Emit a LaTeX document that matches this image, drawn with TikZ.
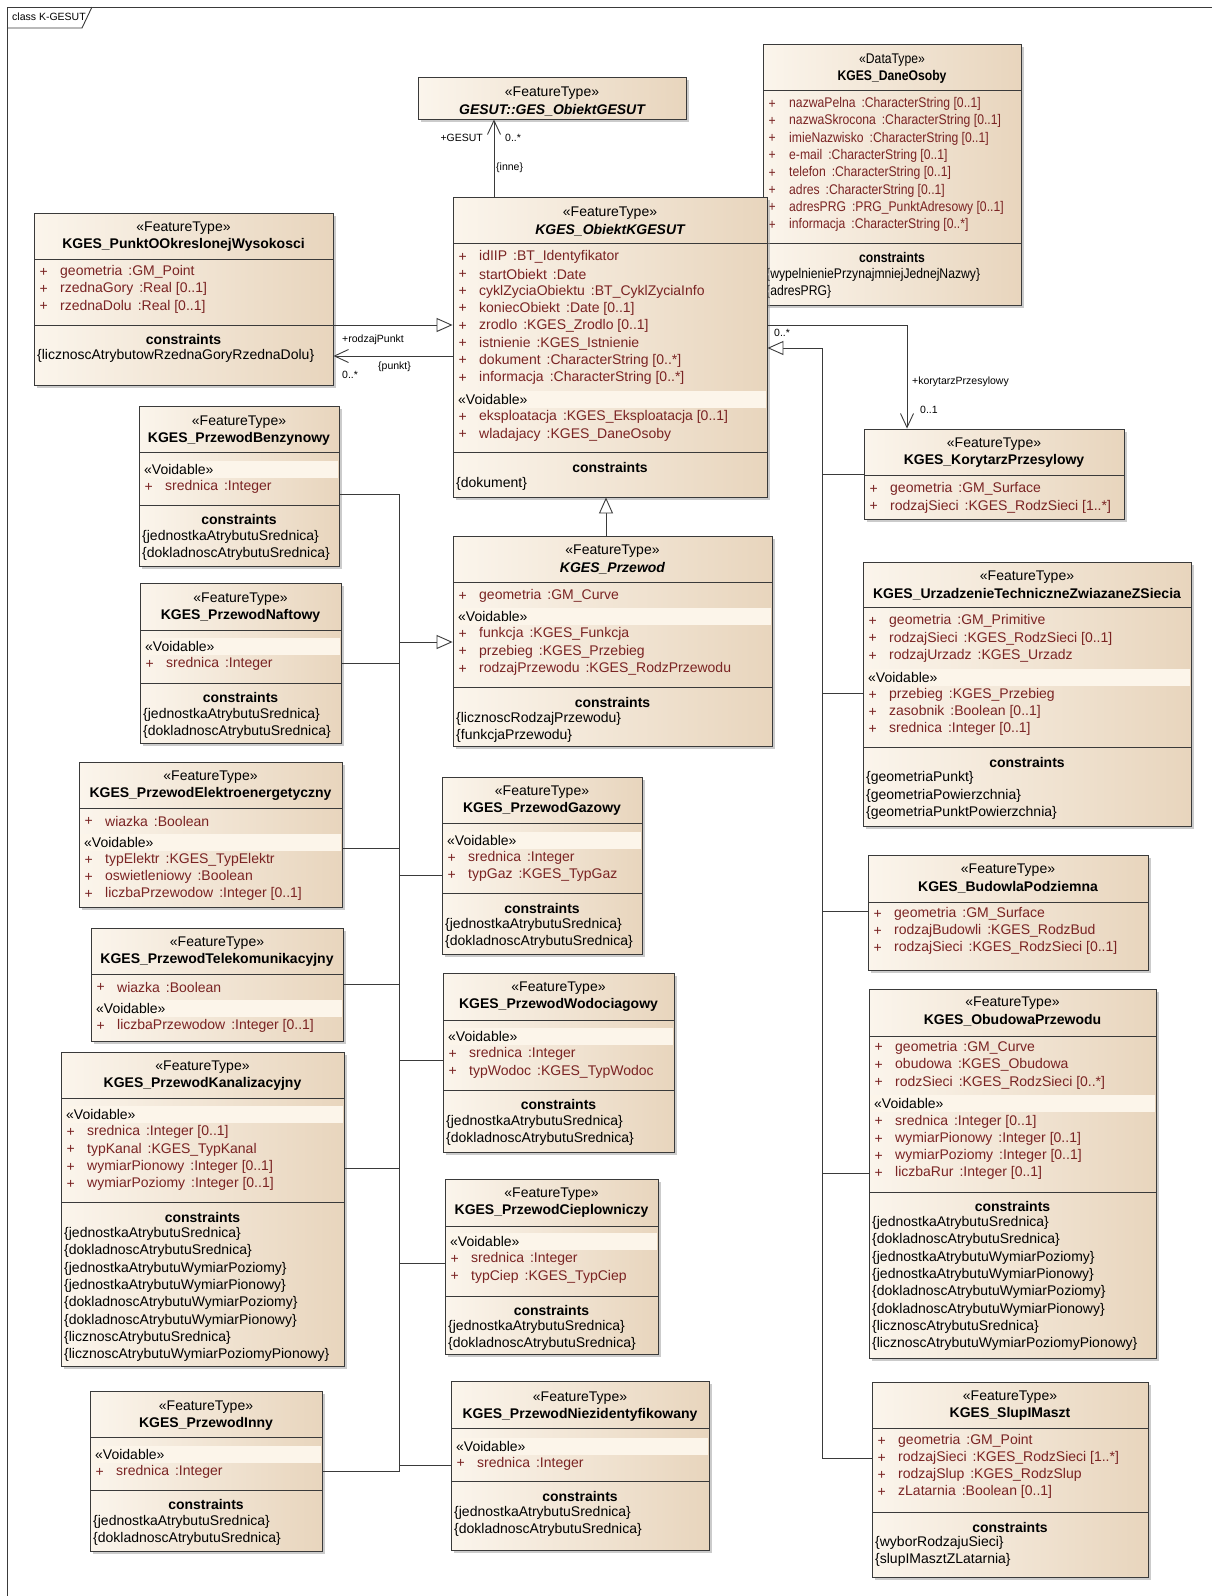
\documentclass[tikz,border=0pt]{standalone}
\usepackage{fontspec}
\setmainfont{Liberation Sans}
\newfontfamily\narrowf[FakeStretch=0.87]{Liberation Sans}
\usetikzlibrary{arrows.meta,shadows,fit}
\definecolor{boxA}{HTML}{FBF5EC}
\definecolor{boxB}{HTML}{E8D5BD}
\definecolor{bandc}{HTML}{FCF5EA}
\definecolor{attrc}{HTML}{7A2323}
\definecolor{linec}{HTML}{3A3A3A}
\newcounter{tn}
\def\curfam{\normalfont}
\tikzset{
 cls/.style={draw=linec, line width=0.9pt, left color=boxA, right color=boxB, inner sep=0pt,
   drop shadow={shadow xshift=3pt, shadow yshift=-3pt, fill=black!40, opacity=0.5}},
 divl/.style={draw=linec, line width=0.9pt},
 txt/.style={inner sep=0pt, font=\curfam\fontsize{14}{16}\selectfont},
 stereo/.style={txt},
 cname/.style={txt, font=\curfam\fontsize{14}{16}\selectfont\bfseries},
 aname/.style={txt, font=\curfam\fontsize{14}{16}\selectfont\bfseries\itshape},
 attr/.style={txt, anchor=west, text=attrc},
 cons/.style={txt, anchor=west},
 lab/.style={inner sep=0pt, font=\fontsize{10.5}{12}\selectfont},
 conn/.style={draw=linec, line width=0.9pt},
 gen/.style={conn, -{Triangle[length=16pt,width=14pt,fill=white]}},
 nav/.style={conn, -{Straight Barb[length=14pt,width=13pt]}},
}
\newcommand\tx[4][]{\stepcounter{tn}\node[#1] (t\arabic{tn}) at ({#2},{#3}) {#4};}
\newcommand\mkbox[5]{\node[cls, fit={(#2,#3) (#4,#5)}] (#1) {};}
\newcommand\hdl[3]{\draw[divl] ({#1},{#3}) -- ({#2},{#3});}
\newcommand\clshead[5]{\tx[stereo]{(#1+#2)/2}{#3}{#4}\tx[cname]{(#1+#2)/2}{#3+17}{#5}}
\newcommand\clsheada[5]{\tx[stereo]{(#1+#2)/2}{#3}{#4}\tx[aname]{(#1+#2)/2}{#3+17}{#5}}
\newcommand\attrow[4]{\tx[attr]{#1+5.5}{#2}{+}\tx[attr]{#1+26}{#2}{#3\hspace{6pt}:#4}}
\newcommand\voidrow[3]{\fill[bandc] ({#1+1},{#3-8.5}) rectangle ({#2-1.5},{#3+8.5});\tx[cons]{#1+5}{#3}{«Voidable»}}
\newcommand\consh[3]{\tx[cname]{(#1+#2)/2}{#3}{constraints}}
\newcommand\consl[3]{\tx[cons]{#1+3}{#2}{\{#3\}}}
\begin{document}
\begin{tikzpicture}[x=1pt,y=-1pt]
\useasboundingbox (0,0) rectangle (1212,1596);
\fill[white] (0,0) rectangle (1212,1596);
% frame
\draw[linec, line width=0.9pt] (7,1600) -- (7,7) -- (1214,7);
\draw[linec, line width=0.9pt] (7,28) -- (82,28) -- (92,7);
\tx[inner sep=0pt, anchor=west, font=\fontsize{10.5}{12}\selectfont]{12}{17}{class K-GESUT}

% GES_ObiektGESUT
\mkbox{gesut}{418}{77}{686}{119}
\clsheada{418}{686}{93}{«FeatureType»}{GESUT::GES\_ObiektGESUT}

% DaneOsoby
\begin{scope}
\def\curfam{\narrowf}
\mkbox{dane}{763}{44}{1021}{305}
\clshead{763}{1021}{60}{«DataType»}{KGES\_DaneOsoby}
\hdl{763}{1021}{90}
\attrow{763}{104}{nazwaPelna}{CharacterString [0..1]}
\attrow{763}{121.3}{nazwaSkrocona}{CharacterString [0..1]}
\attrow{763}{138.6}{imieNazwisko}{CharacterString [0..1]}
\attrow{763}{155.9}{e-mail}{CharacterString [0..1]}
\attrow{763}{173.2}{telefon}{CharacterString [0..1]}
\attrow{763}{190.5}{adres}{CharacterString [0..1]}
\attrow{763}{207.8}{adresPRG}{PRG\_PunktAdresowy [0..1]}
\attrow{763}{225.1}{informacja}{CharacterString [0..*]}
\hdl{763}{1021}{243}
\consh{763}{1021}{257}
\consl{763}{275}{wypelnieniePrzynajmniejJednejNazwy}
\consl{763}{292}{adresPRG}
\end{scope}

% Punkt
\mkbox{punkt}{34}{213}{333}{385}
\clshead{34}{333}{228}{«FeatureType»}{KGES\_PunktOOkreslonejWysokosci}
\hdl{34}{333}{259}
\attrow{34}{272}{geometria}{GM\_Point}
\attrow{34}{289.3}{rzednaGory}{Real [0..1]}
\attrow{34}{306.6}{rzednaDolu}{Real [0..1]}
\hdl{34}{333}{325}
\consh{34}{333}{339}
\consl{34}{356}{licznoscAtrybutowRzednaGoryRzednaDolu}

% ObiektKGESUT
\mkbox{objk}{453}{197}{767}{497}
\clsheada{453}{767}{213}{«FeatureType»}{KGES\_ObiektKGESUT}
\hdl{453}{767}{243}
\attrow{453}{257}{idIIP}{BT\_Identyfikator}
\attrow{453}{274.3}{startObiekt}{Date}
\attrow{453}{291.6}{cyklZyciaObiektu}{BT\_CyklZyciaInfo}
\attrow{453}{308.9}{koniecObiekt}{Date [0..1]}
\attrow{453}{326.2}{zrodlo}{KGES\_Zrodlo [0..1]}
\attrow{453}{343.5}{istnienie}{KGES\_Istnienie}
\attrow{453}{360.8}{dokument}{CharacterString [0..*]}
\attrow{453}{378.1}{informacja}{CharacterString [0..*]}
\voidrow{453}{767}{399.5}
\attrow{453}{417}{eksploatacja}{KGES\_Eksploatacja [0..1]}
\attrow{453}{434.5}{wladajacy}{KGES\_DaneOsoby}
\hdl{453}{767}{452}
\consh{453}{767}{467}
\consl{453}{484}{dokument}

% Korytarz
\mkbox{koryt}{864}{429}{1124}{519}
\clshead{864}{1124}{444}{«FeatureType»}{KGES\_KorytarzPrzesylowy}
\hdl{864}{1124}{475}
\attrow{864}{489}{geometria}{GM\_Surface}
\attrow{864}{506.5}{rodzajSieci}{KGES\_RodzSieci [1..*]}

% Urzadzenie
\mkbox{urz}{863}{562}{1191}{826}
\clshead{863}{1191}{577}{«FeatureType»}{KGES\_UrzadzenieTechniczneZwiazaneZSiecia}
\hdl{863}{1191}{607}
\attrow{863}{621}{geometria}{GM\_Primitive}
\attrow{863}{638.5}{rodzajSieci}{KGES\_RodzSieci [0..1]}
\attrow{863}{656}{rodzajUrzadz}{KGES\_Urzadz}
\voidrow{863}{1191}{677.5}
\attrow{863}{695}{przebieg}{KGES\_Przebieg}
\attrow{863}{712}{zasobnik}{Boolean [0..1]}
\attrow{863}{729}{srednica}{Integer [0..1]}
\hdl{863}{1191}{747}
\consh{863}{1191}{762}
\consl{863}{778}{geometriaPunkt}
\consl{863}{795.5}{geometriaPowierzchnia}
\consl{863}{813}{geometriaPunktPowierzchnia}

% Budowla
\mkbox{budowla}{868}{855}{1148}{970}
\clshead{868}{1148}{870}{«FeatureType»}{KGES\_BudowlaPodziemna}
\hdl{868}{1148}{902}
\attrow{868}{914}{geometria}{GM\_Surface}
\attrow{868}{931}{rodzajBudowli}{KGES\_RodzBud}
\attrow{868}{948}{rodzajSieci}{KGES\_RodzSieci [0..1]}

% Obudowa
\mkbox{obud}{869}{989}{1156}{1358}
\clshead{869}{1156}{1003}{«FeatureType»}{KGES\_ObudowaPrzewodu}
\hdl{869}{1156}{1036}
\attrow{869}{1047.5}{geometria}{GM\_Curve}
\attrow{869}{1065}{obudowa}{KGES\_Obudowa}
\attrow{869}{1082.5}{rodzSieci}{KGES\_RodzSieci [0..*]}
\voidrow{869}{1156}{1103.5}
\attrow{869}{1121.5}{srednica}{Integer [0..1]}
\attrow{869}{1139}{wymiarPionowy}{Integer [0..1]}
\attrow{869}{1156}{wymiarPoziomy}{Integer [0..1]}
\attrow{869}{1173}{liczbaRur}{Integer [0..1]}
\hdl{869}{1156}{1192}
\consh{869}{1156}{1206}
\consl{869}{1223}{jednostkaAtrybutuSrednica}
\consl{869}{1240.3}{dokladnoscAtrybutuSrednica}
\consl{869}{1257.6}{jednostkaAtrybutuWymiarPoziomy}
\consl{869}{1274.9}{jednostkaAtrybutuWymiarPionowy}
\consl{869}{1292.2}{dokladnoscAtrybutuWymiarPoziomy}
\consl{869}{1309.5}{dokladnoscAtrybutuWymiarPionowy}
\consl{869}{1326.8}{licznoscAtrybutuSrednica}
\consl{869}{1344.1}{licznoscAtrybutuWymiarPoziomyPionowy}

% SlupIMaszt
\mkbox{slup}{872}{1382}{1148}{1577}
\clshead{872}{1148}{1397}{«FeatureType»}{KGES\_SlupIMaszt}
\hdl{872}{1148}{1428}
\attrow{872}{1441}{geometria}{GM\_Point}
\attrow{872}{1458}{rodzajSieci}{KGES\_RodzSieci [1..*]}
\attrow{872}{1475}{rodzajSlup}{KGES\_RodzSlup}
\attrow{872}{1492}{zLatarnia}{Boolean [0..1]}
\hdl{872}{1148}{1512}
\consh{872}{1148}{1527}
\consl{872}{1543}{wyborRodzajuSieci}
\consl{872}{1560}{slupIMasztZLatarnia}

% Przewod
\mkbox{przewod}{453}{536}{772}{746}
\clsheada{453}{772}{551}{«FeatureType»}{KGES\_Przewod}
\hdl{453}{772}{582}
\attrow{453}{596}{geometria}{GM\_Curve}
\voidrow{453}{772}{616.5}
\attrow{453}{634}{funkcja}{KGES\_Funkcja}
\attrow{453}{651.5}{przebieg}{KGES\_Przebieg}
\attrow{453}{669}{rodzajPrzewodu}{KGES\_RodzPrzewodu}
\hdl{453}{772}{687}
\consh{453}{772}{702}
\consl{453}{718.5}{licznoscRodzajPrzewodu}
\consl{453}{736}{funkcjaPrzewodu}

% Benzynowy
\mkbox{benz}{139}{406}{339}{566}
\clshead{139}{339}{422}{«FeatureType»}{KGES\_PrzewodBenzynowy}
\hdl{139}{339}{452}
\voidrow{139}{339}{469.5}
\attrow{139}{487}{srednica}{Integer}
\hdl{139}{339}{505}
\consh{139}{339}{519}
\consl{139}{536.5}{jednostkaAtrybutuSrednica}
\consl{139}{554}{dokladnoscAtrybutuSrednica}

% Naftowy
\mkbox{naft}{140}{583}{341}{743}
\clshead{140}{341}{599}{«FeatureType»}{KGES\_PrzewodNaftowy}
\hdl{140}{341}{630}
\voidrow{140}{341}{646.5}
\attrow{140}{664}{srednica}{Integer}
\hdl{140}{341}{683}
\consh{140}{341}{697}
\consl{140}{714.5}{jednostkaAtrybutuSrednica}
\consl{140}{732}{dokladnoscAtrybutuSrednica}

% Elektroenergetyczny
\mkbox{elektro}{79}{762}{342}{907}
\clshead{79}{342}{777}{«FeatureType»}{KGES\_PrzewodElektroenergetyczny}
\hdl{79}{342}{808}
\attrow{79}{821}{wiazka}{Boolean}
\voidrow{79}{342}{842.5}
\attrow{79}{860}{typElektr}{KGES\_TypElektr}
\attrow{79}{877}{oswietleniowy}{Boolean}
\attrow{79}{894}{liczbaPrzewodow}{Integer [0..1]}

% Telekomunikacyjny
\mkbox{tele}{91}{928}{343}{1041}
\clshead{91}{343}{943}{«FeatureType»}{KGES\_PrzewodTelekomunikacyjny}
\hdl{91}{343}{974}
\attrow{91}{987}{wiazka}{Boolean}
\voidrow{91}{343}{1008.5}
\attrow{91}{1026}{liczbaPrzewodow}{Integer [0..1]}

% Kanalizacyjny
\mkbox{kanal}{61}{1052}{344}{1366}
\clshead{61}{344}{1067}{«FeatureType»}{KGES\_PrzewodKanalizacyjny}
\hdl{61}{344}{1098}
\voidrow{61}{344}{1114.5}
\attrow{61}{1132}{srednica}{Integer [0..1]}
\attrow{61}{1149.5}{typKanal}{KGES\_TypKanal}
\attrow{61}{1167}{wymiarPionowy}{Integer [0..1]}
\attrow{61}{1184}{wymiarPoziomy}{Integer [0..1]}
\hdl{61}{344}{1202}
\consh{61}{344}{1217}
\consl{61}{1234}{jednostkaAtrybutuSrednica}
\consl{61}{1251.3}{dokladnoscAtrybutuSrednica}
\consl{61}{1268.6}{jednostkaAtrybutuWymiarPoziomy}
\consl{61}{1285.9}{jednostkaAtrybutuWymiarPionowy}
\consl{61}{1303.2}{dokladnoscAtrybutuWymiarPoziomy}
\consl{61}{1320.5}{dokladnoscAtrybutuWymiarPionowy}
\consl{61}{1337.8}{licznoscAtrybutuSrednica}
\consl{61}{1355}{licznoscAtrybutuWymiarPoziomyPionowy}

% Gazowy
\mkbox{gaz}{442}{777}{642}{954}
\clshead{442}{642}{792}{«FeatureType»}{KGES\_PrzewodGazowy}
\hdl{442}{642}{823}
\voidrow{442}{642}{840.5}
\attrow{442}{858}{srednica}{Integer}
\attrow{442}{875}{typGaz}{KGES\_TypGaz}
\hdl{442}{642}{893}
\consh{442}{642}{908}
\consl{442}{925}{jednostkaAtrybutuSrednica}
\consl{442}{942}{dokladnoscAtrybutuSrednica}

% Wodociagowy
\mkbox{wodoc}{443}{973}{674}{1152}
\clshead{443}{674}{988}{«FeatureType»}{KGES\_PrzewodWodociagowy}
\hdl{443}{674}{1020}
\voidrow{443}{674}{1036.5}
\attrow{443}{1054}{srednica}{Integer}
\attrow{443}{1071.5}{typWodoc}{KGES\_TypWodoc}
\hdl{443}{674}{1090}
\consh{443}{674}{1104}
\consl{443}{1121.5}{jednostkaAtrybutuSrednica}
\consl{443}{1138.5}{dokladnoscAtrybutuSrednica}

% Cieplowniczy
\mkbox{ciep}{445}{1179}{658}{1354}
\clshead{445}{658}{1194}{«FeatureType»}{KGES\_PrzewodCieplowniczy}
\hdl{445}{658}{1226}
\voidrow{445}{658}{1241.5}
\attrow{445}{1259}{srednica}{Integer}
\attrow{445}{1276.5}{typCiep}{KGES\_TypCiep}
\hdl{445}{658}{1296}
\consh{445}{658}{1310}
\consl{445}{1327}{jednostkaAtrybutuSrednica}
\consl{445}{1344}{dokladnoscAtrybutuSrednica}

% Inny
\mkbox{inny}{90}{1391}{322}{1551}
\clshead{90}{322}{1407}{«FeatureType»}{KGES\_PrzewodInny}
\hdl{90}{322}{1437}
\voidrow{90}{322}{1454.5}
\attrow{90}{1472}{srednica}{Integer}
\hdl{90}{322}{1490}
\consh{90}{322}{1504}
\consl{90}{1521.5}{jednostkaAtrybutuSrednica}
\consl{90}{1538.5}{dokladnoscAtrybutuSrednica}

% Niezidentyfikowany
\mkbox{niez}{451}{1381}{709}{1550}
\clshead{451}{709}{1398}{«FeatureType»}{KGES\_PrzewodNiezidentyfikowany}
\hdl{451}{709}{1428}
\voidrow{451}{709}{1446}
\attrow{451}{1463.5}{srednica}{Integer}
\hdl{451}{709}{1481}
\consh{451}{709}{1496}
\consl{451}{1513}{jednostkaAtrybutuSrednica}
\consl{451}{1530}{dokladnoscAtrybutuSrednica}

% ---------- connectors ----------
\draw[nav] (objk.north -| 494,0) -- (gesut.south -| 494,0);
\tx[lab,anchor=east]{483}{138}{+GESUT}
\tx[lab,anchor=west]{505}{138}{0..*}
\tx[lab,anchor=west]{496}{168}{\{inne\}}

\draw[gen] (punkt.east |- 0,325) -- (objk.west |- 0,325);
\draw[nav] (objk.west |- 0,356) -- (punkt.east |- 0,356);
\tx[lab,anchor=west]{342}{340}{+rodzajPunkt}
\tx[lab,anchor=west]{378}{367}{\{punkt\}}
\tx[lab,anchor=west]{342}{375}{0..*}

\draw[nav] (objk.east |- 0,325) -| (koryt.north -| 907,0);
\tx[lab,anchor=west]{774}{333}{0..*}
\tx[lab,anchor=west]{912}{382}{+korytarzPrzesylowy}
\tx[lab,anchor=west]{920}{410}{0..1}

\draw[gen] (przewod.north -| 606,0) -- (objk.south -| 606,0);

% right bus
\coordinate (rb) at (822,348);
\draw[gen] (slup.west |- 0,1458) -| (rb) -- (objk.east |- rb);
\draw[conn] (koryt.west |- 0,474) -- (rb |- 0,474);
\draw[conn] (urz.west |- 0,693) -- (rb |- 0,693);
\draw[conn] (budowla.west |- 0,911) -- (rb |- 0,911);
\draw[conn] (obud.west |- 0,1173) -- (rb |- 0,1173);

% left bus
\coordinate (lb) at (399,642);
\draw[gen] (benz.east |- 0,494) -| (lb) -- (przewod.west |- lb);
\draw[conn] (lb) -- (lb |- 0,1471) -- (inny.east |- 0,1471);
\draw[conn] (naft.east |- 0,663) -- (lb |- 0,663);
\draw[conn] (elektro.east |- 0,848) -- (lb |- 0,848);
\draw[conn] (gaz.west |- 0,875) -- (lb |- 0,875);
\draw[conn] (tele.east |- 0,984) -- (lb |- 0,984);
\draw[conn] (wodoc.west |- 0,1060) -- (lb |- 0,1060);
\draw[conn] (kanal.east |- 0,1168) -- (lb |- 0,1168);
\draw[conn] (ciep.west |- 0,1263) -- (lb |- 0,1263);
\draw[conn] (niez.west |- 0,1465) -- (lb |- 0,1465);
\end{tikzpicture}
\end{document}
